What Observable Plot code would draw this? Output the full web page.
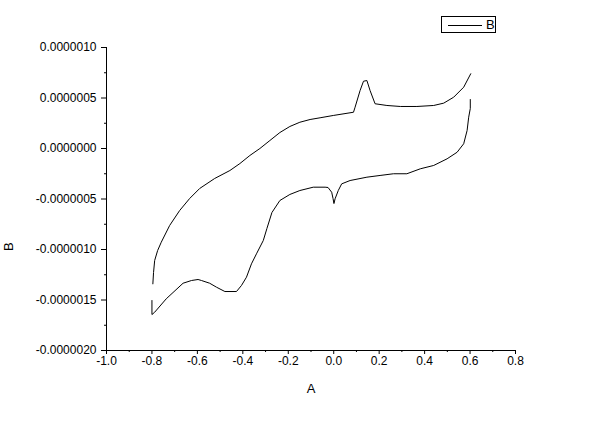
<!DOCTYPE html>
<html>
<head>
<meta charset="utf-8">
<script src="https://cdn.jsdelivr.net/npm/d3@7"></script>
<script src="https://cdn.jsdelivr.net/npm/@observablehq/plot@0.6"></script>
<style>
  html, body { margin: 0; padding: 0; background: #fff; }
  #wrap { position: relative; width: 600px; height: 421px; font-family: "Liberation Sans", Arial, sans-serif; }
  #legend { position: absolute; left: 441px; top: 16px; width: 55px; height: 17px; border: 1px solid #000; box-sizing: border-box; background: #fff; }
  #legend .ln { position: absolute; left: 6px; top: 8px; width: 34px; border-top: 1px solid #000; }
  #legend .tx { position: absolute; left: 44px; top: 1px; font-size: 13px; line-height: 14px; }
</style>
</head>
<body>
<div id="wrap"><div id="legend"><div class="ln"></div><div class="tx">B</div></div></div>
<script>
// Potential (A) and current (B, in units of 1e-6)
const forwardA = [-0.796, -0.793, -0.788, -0.775, -0.759, -0.722, -0.678, -0.634, -0.590, -0.524, -0.457, -0.413, -0.369, -0.325, -0.281, -0.237, -0.193, -0.149, -0.104, -0.060, -0.002, 0.087, 0.094, 0.116, 0.131, 0.146, 0.160, 0.182, 0.234, 0.293, 0.366, 0.440, 0.484, 0.528, 0.572, 0.603];
const forwardB = [-1.340, -1.228, -1.109, -1.010, -0.928, -0.762, -0.614, -0.495, -0.396, -0.297, -0.218, -0.149, -0.069, 0.000, 0.079, 0.158, 0.218, 0.260, 0.287, 0.304, 0.327, 0.359, 0.409, 0.574, 0.666, 0.673, 0.574, 0.443, 0.426, 0.416, 0.416, 0.426, 0.449, 0.508, 0.607, 0.740];
const reverseA = [0.601, 0.601, 0.594, 0.587, 0.572, 0.543, 0.499, 0.440, 0.381, 0.322, 0.263, 0.204, 0.146, 0.072, 0.035, 0.020, 0.006, 0.001, -0.003, -0.009, -0.025, -0.038, -0.090, -0.149, -0.193, -0.237, -0.272, -0.294, -0.310, -0.340, -0.362, -0.384, -0.406, -0.428, -0.479, -0.516, -0.546, -0.582, -0.597, -0.626, -0.663, -0.737, -0.788, -0.800, -0.800];
const reverseB = [0.485, 0.396, 0.310, 0.178, 0.047, -0.037, -0.102, -0.168, -0.201, -0.250, -0.250, -0.267, -0.284, -0.317, -0.350, -0.416, -0.498, -0.545, -0.495, -0.433, -0.386, -0.383, -0.383, -0.416, -0.455, -0.515, -0.634, -0.792, -0.911, -1.043, -1.142, -1.274, -1.356, -1.416, -1.416, -1.373, -1.334, -1.307, -1.297, -1.307, -1.334, -1.488, -1.621, -1.644, -1.505];

const xMajor = [-1.0, -0.8, -0.6, -0.4, -0.2, 0.0, 0.2, 0.4, 0.6, 0.8];
const xMinor = [-0.9, -0.7, -0.5, -0.3, -0.1, 0.1, 0.3, 0.5, 0.7];
const yMajor = [-2.0, -1.5, -1.0, -0.5, 0.0, 0.5, 1.0];
const yMinor = [-1.75, -1.25, -0.75, -0.25, 0.25, 0.75];

const data = [
  ...forwardA.map((a, i) => ({A: a, B: forwardB[i], s: "fwd"})),
  ...reverseA.map((a, i) => ({A: a, B: reverseB[i], s: "rev"}))
];

const loc = d3.formatLocale({decimal: ".", thousands: ",", grouping: [3], currency: ["", ""], minus: "-"});
const fmtX = loc.format(".1f");
const fmtY7 = loc.format(".7f");
const fmtY = d => fmtY7(d * 1e-6);

const chart = Plot.plot({
  width: 600,
  height: 421,
  marginLeft: 106,
  marginRight: 85,
  marginTop: 47,
  marginBottom: 71,
  style: {fontFamily: "'Liberation Sans', Arial, sans-serif", fontSize: "12px", background: "transparent", color: "#000"},
  x: {domain: [-1.0, 0.8]},
  y: {domain: [-2.0, 1.0]},
  marks: [
    Plot.axisX({ticks: xMajor, tickSize: 4, tickPadding: 2, tickFormat: fmtX, label: null, fontSize: 12}),
    Plot.axisX({ticks: xMinor, tickSize: 2, text: null, label: null}),
    Plot.axisY({ticks: yMajor, tickSize: 5, tickPadding: 5, tickFormat: fmtY, label: null, fontSize: 12}),
    Plot.axisY({ticks: yMinor, tickSize: 2, text: null, label: null}),
    Plot.ruleY([-2.0], {stroke: "#000"}),
    Plot.ruleX([-1.0], {stroke: "#000"}),
    Plot.line(data, {x: "A", y: "B", z: "s", stroke: "#000", strokeWidth: 1}),
    Plot.text(["A"], {frameAnchor: "bottom", dy: 42, fontSize: 13, textAnchor: "middle"}),
    Plot.text(["B"], {frameAnchor: "left", dx: -98, dy: 52, rotate: -90, fontSize: 13})
  ]
});
document.getElementById("wrap").prepend(chart);
</script>
</body>
</html>
